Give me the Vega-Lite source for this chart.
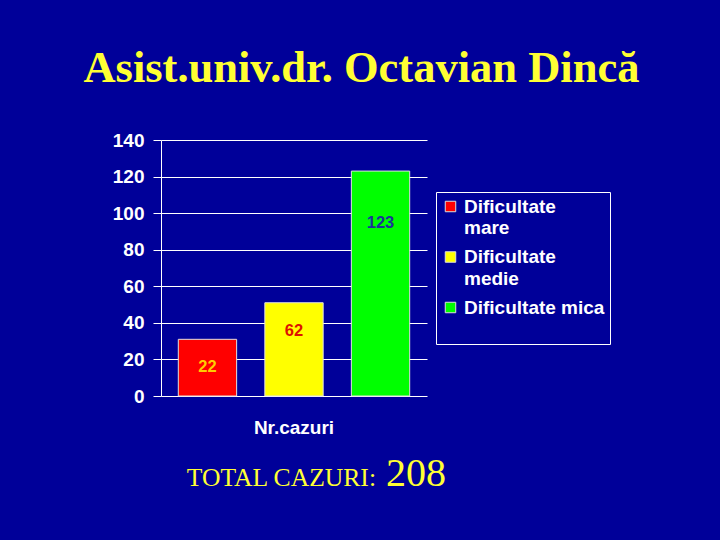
{
  "$schema": "https://vega.github.io/schema/vega-lite/v6.json",
  "background": "#000099",
  "padding": {"left": 83, "top": 45, "right": 100, "bottom": 40},
  "title": {"text": "Asist.univ.dr. Octavian Dincă", "font": "Liberation Serif", "fontSize": 44.5, "fontWeight": "bold", "color": "#ffff33", "anchor": "middle", "offset": 40},
  "datasets": {
    "cazuri": [
      {"categorie": "Nr.cazuri", "dificultate": "Dificultate mare", "valoare": 31, "eticheta": "22"},
      {"categorie": "Nr.cazuri", "dificultate": "Dificultate medie", "valoare": 51, "eticheta": "62"},
      {"categorie": "Nr.cazuri", "dificultate": "Dificultate mica", "valoare": 123, "eticheta": "123"}
    ],
    "total": [
      {"eticheta": "TOTAL CAZURI:", "total": 208}
    ]
  },
  "vconcat": [
    {
      "width": 266,
      "height": 256,
      "data": {"name": "cazuri"},
      "encoding": {
        "x": {"field": "categorie", "type": "nominal", "scale": {"paddingInner": 0, "paddingOuter": 0},
          "axis": {"title": null, "labelColor": "white", "labelFont": "Liberation Sans", "labelFontSize": 19, "labelFontWeight": "bold", "labelAngle": 0, "ticks": false, "domain": false, "labelPadding": 31}},
        "xOffset": {"field": "dificultate", "type": "nominal", "sort": ["Dificultate mare", "Dificultate medie", "Dificultate mica"], "scale": {"paddingInner": 0.326, "paddingOuter": 0.2}},
        "y": {"field": "valoare", "type": "quantitative", "scale": {"domain": [0, 140], "nice": false},
          "axis": {"title": null, "values": [0, 20, 40, 60, 80, 100, 120, 140], "grid": true, "gridColor": "white", "gridOpacity": 1, "gridWidth": 1, "domainColor": "white", "tickColor": "white", "tickSize": 8, "labelColor": "white", "labelFont": "Liberation Sans", "labelFontSize": 19, "labelFontWeight": "bold", "labelPadding": 9, "labelOffset": 9}}
      },
      "layer": [
        {
          "mark": {"type": "bar", "stroke": "#e0e0e0", "strokeWidth": 1},
          "encoding": {
            "color": {"field": "dificultate", "type": "nominal",
              "scale": {"domain": ["Dificultate mare", "Dificultate medie", "Dificultate mica"], "range": ["#ff0000", "#ffff00", "#00ff00"]},
              "legend": {"orient": "none", "legendX": 275, "legendY": 52, "title": " ", "titleOrient": "bottom", "titleFontSize": 14, "titlePadding": 7, "strokeColor": "white", "padding": 5, "symbolType": "square", "symbolSize": 110, "symbolStrokeColor": "#dddddd", "symbolStrokeWidth": 1, "symbolOpacity": 1, "labelColor": "white", "labelFont": "Liberation Sans", "labelFontSize": 19, "labelFontWeight": "bold", "labelLimit": 250, "labelBaseline": "top", "rowPadding": 9.5,
                "labelExpr": "datum.label == 'Dificultate mica' ? datum.label : split(datum.label, ' ')"}}
          }
        },
        {
          "transform": [{"filter": "datum.dificultate != 'Dificultate mica'"}],
          "mark": {"type": "text", "dy": 28, "font": "Liberation Sans", "fontSize": 16.5, "fontWeight": "bold"},
          "encoding": {
            "text": {"field": "eticheta"},
            "fill": {"field": "dificultate", "type": "nominal", "scale": {"domain": ["Dificultate mare", "Dificultate medie", "Dificultate mica"], "range": ["#ffcc00", "#dd1100", "#1a3399"]}, "legend": null}
          }
        },
        {
          "transform": [{"filter": "datum.dificultate == 'Dificultate mica'"}],
          "mark": {"type": "text", "dy": 52, "font": "Liberation Sans", "fontSize": 16.5, "fontWeight": "bold"},
          "encoding": {
            "text": {"field": "eticheta"},
            "fill": {"field": "dificultate", "type": "nominal", "scale": {"domain": ["Dificultate mare", "Dificultate medie", "Dificultate mica"], "range": ["#ffcc00", "#dd1100", "#1a3399"]}, "legend": null}
          }
        }
      ]
    },
    {
      "width": 436,
      "height": 40,
      "data": {"name": "total"},
      "layer": [
        {"mark": {"type": "text", "align": "right", "baseline": "alphabetic", "dx": -3, "font": "Liberation Serif", "fontSize": 25.6, "color": "#ffff33"},
         "encoding": {"text": {"field": "eticheta"}}},
        {"mark": {"type": "text", "align": "left", "baseline": "alphabetic", "dx": 7, "font": "Liberation Serif", "fontSize": 40, "color": "#ffff33"},
         "encoding": {"text": {"field": "total"}}}
      ]
    }
  ],
  "spacing": 17,
  "resolve": {"legend": {"color": "independent"}},
  "config": {"view": {"stroke": null}, "style": {"guide-label": {"lineHeight": 21.5, "dy": -9}}}
}
